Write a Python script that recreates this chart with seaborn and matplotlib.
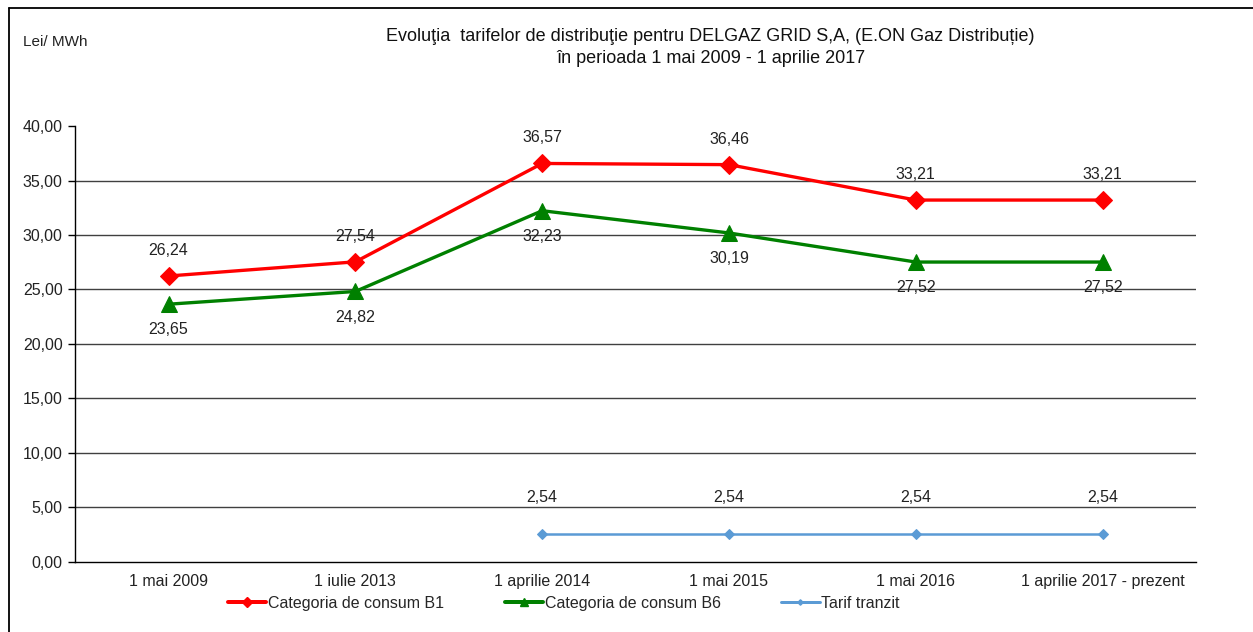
import numpy as np
import pandas as pd
import matplotlib.pyplot as plt
from matplotlib.lines import Line2D
import seaborn as sns

categories = ['1 mai 2009', '1 iulie 2013', '1 aprilie 2014', '1 mai 2015',
              '1 mai 2016', '1 aprilie 2017 - prezent']
b1 = [26.24, 27.54, 36.57, 36.46, 33.21, 33.21]
b6 = [23.65, 24.82, 32.23, 30.19, 27.52, 27.52]
tranzit = [np.nan, np.nan, 2.54, 2.54, 2.54, 2.54]
series_names = ['Categoria de consum B1', 'Categoria de consum B6', 'Tarif tranzit']

df = pd.DataFrame({'pos': range(len(categories)), 'b1': b1, 'b6': b6, 'tranzit': tranzit})

sns.set_style('white')
plt.rcParams['font.family'] = ['Liberation Sans', 'DejaVu Sans']

fig = plt.figure(figsize=(12.53, 6.32), dpi=100)
ax = fig.add_axes([0.06, 0.111, 0.8945, 0.6895])

# series styles
styles = {
    'b1': dict(color='#FF0000', marker='D', markersize=9, linewidth=2.4),
    'b6': dict(color='#008000', marker='^', markersize=11, linewidth=2.4),
    'tranzit': dict(color='#5B9BD5', marker='D', markersize=5, linewidth=1.8),
}
for col in ['b1', 'b6', 'tranzit']:
    st = styles[col]
    d = df.dropna(subset=[col])
    sns.lineplot(data=d, x='pos', y=col, ax=ax, color=st['color'], marker=st['marker'],
                 markersize=st['markersize'], linewidth=st['linewidth'],
                 markeredgecolor=st['color'], sort=False, zorder=3)

def fmt(v):
    return f'{v:.2f}'.replace('.', ',')

# data labels
for i, v in enumerate(b1):
    ax.annotate(fmt(v), (i, v), xytext=(0, 13), textcoords='offset points',
                ha='center', va='bottom', fontsize=11.5, color='#222222')
for i, v in enumerate(b6):
    ax.annotate(fmt(v), (i, v), xytext=(0, -13), textcoords='offset points',
                ha='center', va='top', fontsize=11.5, color='#222222')
for i, v in enumerate(tranzit):
    if not np.isnan(v):
        ax.annotate(fmt(v), (i, v), xytext=(0, 21), textcoords='offset points',
                    ha='center', va='bottom', fontsize=11.5, color='#222222')

ax.set_xlim(-0.5, len(categories) - 0.5)
ax.set_ylim(0, 40)
ax.set_yticks(np.arange(0, 41, 5))
ax.set_yticklabels([fmt(v) for v in np.arange(0, 41, 5)], fontsize=11.5, color='#222222')
ax.set_xticks(range(len(categories)))
ax.set_xticklabels(categories, fontsize=11.5, color='#222222')
ax.set_xticks(np.arange(-0.5, len(categories), 1), minor=True)
ax.tick_params(axis='x', which='major', length=0, pad=9)
ax.tick_params(axis='x', which='minor', length=5, width=1, color='black', direction='out')
ax.tick_params(axis='y', length=5, width=1, color='black', direction='out', left=True, pad=4)
ax.set_xlabel('')
ax.set_ylabel('')

for v in np.arange(5, 40, 5):
    ax.axhline(v, color='#404040', linewidth=1, zorder=1)

for s in ['top', 'right']:
    ax.spines[s].set_visible(False)
for s in ['left', 'bottom']:
    ax.spines[s].set_color('black')
    ax.spines[s].set_linewidth(1)

fig.text(0.567, 0.925, 'Evoluţia  tarifelor de distribuţie pentru DELGAZ GRID S,A, (E.ON Gaz Distribuție)\n'
         'în perioada 1 mai 2009 - 1 aprilie 2017', ha='center', va='center', fontsize=13,
         color='#111111', linespacing=1.35)
fig.text(0.018, 0.934, 'Lei/ MWh', ha='left', va='center', fontsize=11, color='#222222')

handles = [Line2D([], [], color=styles[c]['color'], marker=styles[c]['marker'],
                  markersize=styles[c]['markersize'] * 0.55, linewidth=styles[c]['linewidth'] * 1.2)
           for c in ['b1', 'b6', 'tranzit']]
fig.legend(handles, series_names, loc='center', bbox_to_anchor=(0.45, 0.045), ncol=3,
           frameon=False, fontsize=11.5, handlelength=2.4, handletextpad=0.1, columnspacing=3.8)

# outer frame (left and top edges)
fig.add_artist(Line2D([0.0075, 0.0075], [0, 0.987], transform=fig.transFigure, color='black', linewidth=1.3))
fig.add_artist(Line2D([0.0075, 1], [0.987, 0.987], transform=fig.transFigure, color='black', linewidth=1.3))

fig.savefig('out.png', dpi=100)
